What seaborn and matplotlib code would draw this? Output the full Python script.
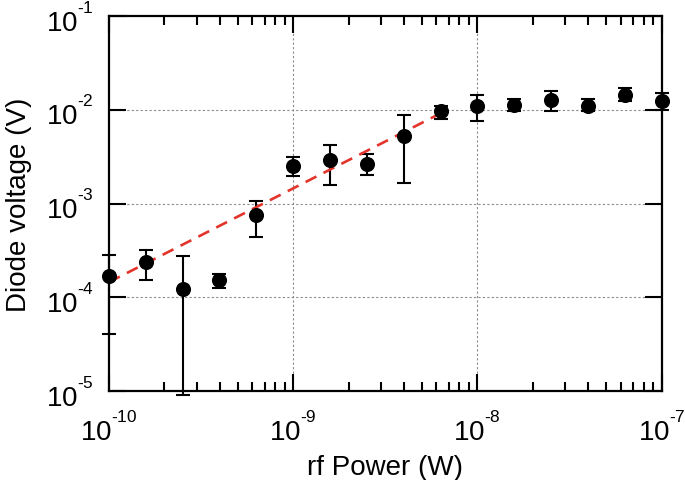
import numpy as np
import pandas as pd
import matplotlib
matplotlib.use("Agg")
import matplotlib.pyplot as plt
import matplotlib.ticker as mticker
import seaborn as sns

# ---- data ----
power = [1e-10, 1.585e-10, 2.512e-10, 3.981e-10, 6.31e-10,
         1e-9, 1.585e-9, 2.512e-9, 3.981e-9, 6.31e-9,
         1e-8, 1.585e-8, 2.512e-8, 3.981e-8, 6.31e-8, 1e-7]
voltage = [1.67e-4, 2.36e-4, 1.22e-4, 1.52e-4, 7.5e-4,
           2.52e-3, 2.91e-3, 2.64e-3, 5.26e-3, 9.6e-3,
           1.09e-2, 1.13e-2, 1.28e-2, 1.11e-2, 1.45e-2, 1.23e-2]
v_low = [4.1e-5, 1.52e-4, 9e-6, 1.25e-4, 4.4e-4,
         1.97e-3, 1.57e-3, 2.0e-3, 1.64e-3, 8.0e-3,
         7.6e-3, 9.75e-3, 9.6e-3, 9.6e-3, 1.23e-2, 1.0e-2]
v_high = [2.8e-4, 3.2e-4, 2.74e-4, 1.79e-4, 1.06e-3,
          3.1e-3, 4.2e-3, 3.35e-3, 8.8e-3, 1.11e-2,
          1.42e-2, 1.31e-2, 1.57e-2, 1.31e-2, 1.71e-2, 1.51e-2]
fit_power = [1e-10, 6.31e-9]
fit_voltage = [1.45e-4, 9.15e-3]

x_label = "rf Power (W)"
y_label = "Diode voltage (V)"

df = pd.DataFrame({"power": power, "voltage": voltage,
                   "low": v_low, "high": v_high})
fit = pd.DataFrame({"power": fit_power, "voltage": fit_voltage})

sns.set_theme(style="white")
plt.rcParams["font.family"] = ["Liberation Sans", "DejaVu Sans"]
plt.rcParams["mathtext.fontset"] = "custom"
plt.rcParams["mathtext.rm"] = "Liberation Sans"
plt.rcParams["mathtext.it"] = "Liberation Sans"
plt.rcParams["mathtext.default"] = "regular"

# superscripts: smaller and raised higher (like the reference)
try:
    import matplotlib._mathtext as _mt
    _mt.SHRINK_FACTOR = 0.62
    _mt.FontConstantsBase.sup1 = 1.25
except Exception:
    pass

# use a short hyphen in the exponent if mathtext supports \text
minus_tok = "-"
try:
    from matplotlib.mathtext import MathTextParser
    MathTextParser("agg").parse(r"$\mathregular{10^{\text{-}4}}$", dpi=100)
    minus_tok = r"\text{-}"
except Exception:
    minus_tok = "-"


def log_fmt(v, p):
    e = int(round(np.log10(v)))
    s = (minus_tok + str(-e)) if e < 0 else str(e)
    return r"$\mathregular{10^{%s}}$" % s


fig = plt.figure(figsize=(6.85, 4.81), dpi=100)
ax = fig.add_axes([109 / 685, 1 - 392 / 481, (661.5 - 109) / 685, (392 - 17) / 481])
ax.set_xscale("log")
ax.set_yscale("log")

# grid
for gx in [1e-9, 1e-8]:
    ax.axvline(gx, color="#8a8a8a", lw=0.8, ls=(0, (2, 2)), zorder=0)
for gy in [1e-4, 1e-3, 1e-2]:
    ax.axhline(gy, color="#8a8a8a", lw=0.8, ls=(0, (2, 2)), zorder=0)

# fit line
sns.lineplot(data=fit, x="power", y="voltage", ax=ax, color="#e3342b",
             lw=1.9, dashes=False, zorder=4)
ax.lines[-1].set_dashes((4.6, 3.0))

# error bars
yerr = np.array([df["voltage"] - df["low"], df["high"] - df["voltage"]])
eb = ax.errorbar(df["power"], df["voltage"], yerr=yerr, fmt="none",
                 ecolor="black", elinewidth=1.5, capsize=5.2, capthick=1.5,
                 zorder=3)
for artist in eb.get_children():
    artist.set_clip_on(False)

# points
sns.scatterplot(data=df, x="power", y="voltage", ax=ax, color="black",
                s=118, edgecolor="black", linewidth=0, zorder=5,
                clip_on=False, legend=False)

ax.set_xlim(1e-10, 1e-7)
ax.set_ylim(1e-5, 1e-1)

fmt = mticker.FuncFormatter(log_fmt)
ax.xaxis.set_major_locator(mticker.LogLocator(base=10, numticks=10))
ax.xaxis.set_minor_locator(mticker.LogLocator(base=10, subs=np.arange(2, 10), numticks=20))
ax.xaxis.set_minor_formatter(mticker.NullFormatter())
ax.yaxis.set_major_locator(mticker.LogLocator(base=10, numticks=10))
ax.yaxis.set_minor_locator(mticker.NullLocator())
ax.xaxis.set_major_formatter(fmt)
ax.yaxis.set_major_formatter(fmt)

ax.tick_params(which="both", direction="in", top=True, right=True,
               bottom=True, left=True, color="black", width=1.5)
ax.tick_params(which="major", length=12, labelsize=20)
ax.tick_params(axis="x", which="major", pad=14)
ax.tick_params(axis="y", which="major", pad=11)
ax.tick_params(which="minor", length=6.5)

for s in ax.spines.values():
    s.set_color("black")
    s.set_linewidth(1.6)

ax.set_xlabel(x_label, fontsize=20, labelpad=6, color="black")
ax.set_ylabel(y_label, fontsize=20, labelpad=10, color="black")
ax.tick_params(labelcolor="black")

fig.savefig("out.png", dpi=100)
